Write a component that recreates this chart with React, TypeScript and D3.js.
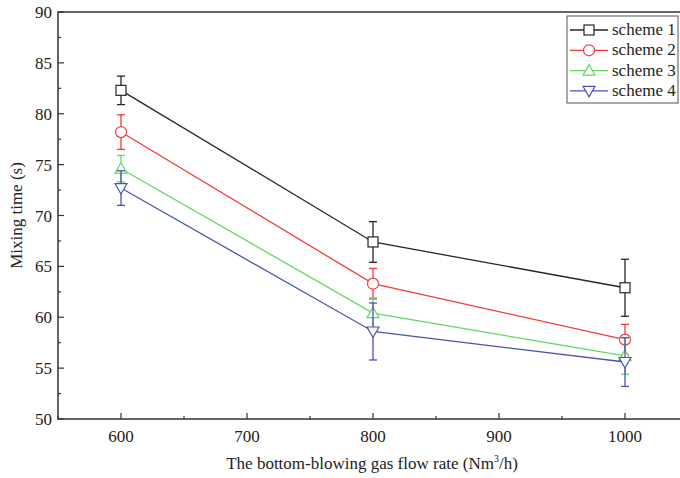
import React from "react";
import * as d3 from "d3";

const flowRates = [600, 800, 1000];
const seriesNames = ["scheme 1", "scheme 2", "scheme 3", "scheme 4"];
const scheme1 = [82.3, 67.4, 62.9];
const scheme1Err = [1.4, 2.0, 2.8];
const scheme2 = [78.2, 63.3, 57.8];
const scheme2Err = [1.7, 1.5, 1.5];
const scheme3 = [74.6, 60.4, 56.2];
const scheme3Err = [1.3, 1.5, 1.8];
const scheme4 = [72.7, 58.6, 55.6];
const scheme4Err = [1.7, 2.8, 2.4];
const xTicks = [600, 700, 800, 900, 1000];
const yTicks = [50, 55, 60, 65, 70, 75, 80, 85, 90];

const colors = ["#262626", "#f23c3c", "#62d862", "#4a54b4"];
const markers = ["square", "circle", "triangle", "triangleDown"];

const W = 680, H = 478;
const m = { left: 58, top: 12, right: 688, bottom: 419 };

function Marker({ type, x, y, color }: { type: string; x: number; y: number; color: string }) {
  const r = 5;
  if (type === "square") return <rect x={x - r} y={y - r} width={2 * r} height={2 * r} fill="#fff" stroke={color} strokeWidth={1.2} />;
  if (type === "circle") return <circle cx={x} cy={y} r={r + 0.5} fill="#fff" stroke={color} strokeWidth={1.2} />;
  if (type === "triangle") return <path d={`M${x},${y - 6}L${x + 6},${y + 4.5}L${x - 6},${y + 4.5}Z`} fill="#fff" stroke={color} strokeWidth={1.2} />;
  return <path d={`M${x},${y + 6}L${x + 6},${y - 4.5}L${x - 6},${y - 4.5}Z`} fill="#fff" stroke={color} strokeWidth={1.2} />;
}

export default function App() {
  const x = d3.scaleLinear().domain([550, 1050]).range([m.left, m.right]);
  const y = d3.scaleLinear().domain([50, 90]).range([m.bottom, m.top]);
  const data = [scheme1, scheme2, scheme3, scheme4];
  const errs = [scheme1Err, scheme2Err, scheme3Err, scheme4Err];
  const line = d3.line<number>().x((_, i) => x(flowRates[i])).y((d) => y(d));
  const xMinor = d3.range(550, 1051, 50).filter((v) => v % 100 !== 0);
  const yMinor = d3.range(52.5, 90, 5);
  const font = "'Liberation Serif', 'Times New Roman', 'DejaVu Serif', serif";
  const axisColor = "#333";

  return (
    <svg width={W} height={H} style={{ position: "absolute", left: 0, top: 0, background: "#fff", fontFamily: font }}>
      <rect width={W} height={H} fill="#fff" />
      <rect x={m.left} y={m.top} width={m.right - m.left} height={m.bottom - m.top} fill="none" stroke={axisColor} strokeWidth={1.5} />
      {xTicks.map((t) => (
        <g key={"xt" + t}>
          <line x1={x(t)} x2={x(t)} y1={m.bottom} y2={m.bottom - 6} stroke={axisColor} strokeWidth={1.2} />
          <text x={x(t)} y={442} textAnchor="middle" fontSize={17} fill="#222">{t}</text>
        </g>
      ))}
      {xMinor.map((t) => (
        <line key={"xm" + t} x1={x(t)} x2={x(t)} y1={m.bottom} y2={m.bottom - 3} stroke={axisColor} strokeWidth={1.2} />
      ))}
      {yTicks.map((t) => (
        <g key={"yt" + t}>
          <line x1={m.left} x2={m.left + 6} y1={y(t)} y2={y(t)} stroke={axisColor} strokeWidth={1.2} />
          <text x={52} y={y(t) + 6} textAnchor="end" fontSize={17} fill="#222">{t}</text>
        </g>
      ))}
      {yMinor.map((t) => (
        <line key={"ym" + t} x1={m.left} x2={m.left + 3} y1={y(t)} y2={y(t)} stroke={axisColor} strokeWidth={1.2} />
      ))}
      <text x={372} y={469} textAnchor="middle" fontSize={17} fill="#222">
        The bottom-blowing gas flow rate (Nm<tspan dy={-7} fontSize={10}>3</tspan><tspan dy={7}>/h)</tspan>
      </text>
      <text transform={`translate(22,${(m.top + m.bottom) / 2}) rotate(-90)`} textAnchor="middle" fontSize={17} fill="#222">
        Mixing time (s)
      </text>
      {data.map((vals, si) => (
        <g key={"s" + si}>
          <path d={line(vals) || ""} fill="none" stroke={colors[si]} strokeWidth={1.3} />
          {vals.map((v, i) => {
            const cx = x(flowRates[i]);
            const e = errs[si][i];
            return (
              <g key={i}>
                <line x1={cx} x2={cx} y1={y(v - e)} y2={y(v + e)} stroke={colors[si]} strokeWidth={1.3} />
                <line x1={cx - 4} x2={cx + 4} y1={y(v - e)} y2={y(v - e)} stroke={colors[si]} strokeWidth={1.3} />
                <line x1={cx - 4} x2={cx + 4} y1={y(v + e)} y2={y(v + e)} stroke={colors[si]} strokeWidth={1.3} />
              </g>
            );
          })}
          {vals.map((v, i) => (
            <Marker key={"m" + i} type={markers[si]} x={x(flowRates[i])} y={y(v)} color={colors[si]} />
          ))}
        </g>
      ))}
      <rect x={567} y={16} width={111} height={87} fill="#fff" stroke="#555" strokeWidth={1} />
      {seriesNames.map((n, i) => {
        const ly = 30 + i * 20.3;
        return (
          <g key={"l" + i}>
            <line x1={570} x2={608} y1={ly} y2={ly} stroke={colors[i]} strokeWidth={1.3} />
            <Marker type={markers[i]} x={589} y={ly} color={colors[i]} />
            <text x={612} y={ly + 5} fontSize={17} fill="#222">{n}</text>
          </g>
        );
      })}
    </svg>
  );
}
